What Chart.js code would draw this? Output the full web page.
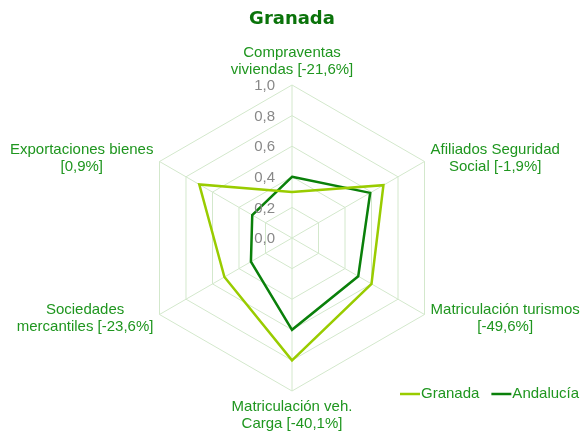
<!DOCTYPE html>
<html>
<head>
<meta charset="utf-8">
<script src="https://cdn.jsdelivr.net/npm/chart.js@4"></script>
<style>
  html, body { margin: 0; padding: 0; background: #fff; }
  #wrap { width: 583px; height: 432px; position: relative; }
</style>
</head>
<body>
<div id="wrap"><canvas id="radar"></canvas></div>
<script>
// datos
const categories = [
  ['Compraventas', 'viviendas [-21,6%]'],
  ['Afiliados Seguridad', 'Social [-1,9%]'],
  ['Matriculación turismos', '[-49,6%]'],
  ['Matriculación veh.', 'Carga [-40,1%]'],
  ['Sociedades', 'mercantiles [-23,6%]'],
  ['Exportaciones bienes', '[0,9%]']
];
const granada = [0.30, 0.69, 0.60, 0.80, 0.51, 0.70];
const andalucia = [0.40, 0.59, 0.50, 0.60, 0.31, 0.30];
const tickValues = [0, 0.2, 0.4, 0.6, 0.8, 1.0];
const seriesNames = ['Granada', 'Andalucía'];
const seriesColors = ['#99cc00', '#0a800a'];

const labelColor = '#1f961f';
const labelFont = '15px "Liberation Sans", Arial, sans-serif';

// Título, etiquetas de ejes, valores y leyenda
const decoPlugin = {
  id: 'deco',
  afterDatasetsDraw(chart) {
    const ctx = chart.ctx;
    const scale = chart.scales.r;
    const cx = scale.xCenter;
    const R = scale.drawingArea;
    ctx.save();

    // título
    ctx.font = 'bold 18px "DejaVu Sans", sans-serif';
    ctx.fillStyle = '#0a730a';
    ctx.textAlign = 'center';
    ctx.textBaseline = 'middle';
    ctx.fillText('Granada', cx, 19);

    // valores de la escala
    ctx.font = labelFont;
    ctx.fillStyle = '#888888';
    ctx.textAlign = 'right';
    tickValues.forEach(v => {
      const y = scale.yCenter - scale.getDistanceFromCenterForValue(v);
      ctx.fillText(v.toFixed(1).replace('.', ','), cx - 17, y + 1);
    });

    // etiquetas de categorías
    const lh = 17;
    ctx.fillStyle = labelColor;
    ctx.textAlign = 'center';
    categories.forEach((lines, i) => {
      const p = scale.getPointPosition(i, R + 7);
      const w = Math.max(...lines.map(t => ctx.measureText(t).width));
      const h = lines.length * lh;
      let mx = p.x, top;
      if (Math.abs(p.x - cx) < 2) {
        top = p.y < scale.yCenter ? p.y - h : p.y;
      } else {
        mx = p.x > cx ? p.x + w / 2 : p.x - w / 2;
        top = p.y - h / 2;
      }
      lines.forEach((t, k) => ctx.fillText(t, mx, top + lh * k + lh / 2));
    });

    // leyenda
    ctx.textAlign = 'left';
    let x = 400;
    const ly = 394;
    seriesNames.forEach((name, i) => {
      ctx.strokeStyle = seriesColors[i];
      ctx.lineWidth = 2.5;
      ctx.beginPath();
      ctx.moveTo(x, ly);
      ctx.lineTo(x + 20, ly);
      ctx.stroke();
      ctx.fillStyle = labelColor;
      ctx.fillText(name, x + 21, ly);
      x += 21 + ctx.measureText(name).width + 12;
    });
    ctx.restore();
  }
};

new Chart(document.getElementById('radar'), {
  type: 'radar',
  data: {
    labels: categories,
    datasets: [
      { label: seriesNames[0], data: granada, borderColor: seriesColors[0], borderWidth: 2.5, fill: false, pointRadius: 0 },
      { label: seriesNames[1], data: andalucia, borderColor: seriesColors[1], borderWidth: 2.5, fill: false, pointRadius: 0 }
    ]
  },
  options: {
    responsive: true,
    maintainAspectRatio: false,
    animation: false,
    layout: { padding: { left: 139, right: 138, top: 85, bottom: 40 } },
    elements: { line: { tension: 0, borderJoinStyle: 'miter' } },
    plugins: {
      legend: { display: false },
      title: { display: false },
      tooltip: { enabled: false }
    },
    scales: {
      r: {
        min: 0,
        max: 1,
        ticks: { display: false, stepSize: 0.2 },
        pointLabels: { display: false },
        grid: { color: '#d3e8cc', lineWidth: 1 },
        angleLines: { color: '#d3e8cc', lineWidth: 1 }
      }
    }
  },
  plugins: [decoPlugin]
});
</script>
</body>
</html>
